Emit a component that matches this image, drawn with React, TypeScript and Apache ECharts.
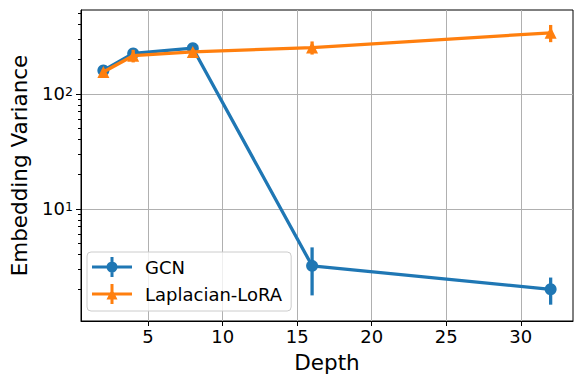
import React, { useEffect, useRef } from "react";
import * as echarts from "echarts";

const depths = [2, 4, 8, 16, 32];
const gcnMean = [160, 225, 250, 3.2, 2.0];
const gcnErr = [8, 12, 10, 1.43, 0.53];
const loraMean = [155, 215, 232, 253, 340];
const loraErr = [8, 27, 12, 33, 58];
const xTicks = [5, 10, 15, 20, 25, 30];
const yMajor = [10, 100];
const yMinor = [2, 3, 4, 5, 6, 7, 8, 9, 20, 30, 40, 50, 60, 70, 80, 90, 200, 300, 400, 500];

const BLUE = "#1f77b4";
const ORANGE = "#ff7f0e";
const FONT = "DejaVu Sans";

const GCN_ICON =
  "path://M0,8.5H40V11.5H0Z M18.5,0H21.5V20H18.5Z M14.5,10A5.5,5.5 0 1,1 25.5,10A5.5,5.5 0 1,1 14.5,10Z";
const LORA_ICON =
  "path://M0,8.5H40V11.5H0Z M18.5,0H21.5V20H18.5Z M20,4.5L25.5,15.5L14.5,15.5Z";

const errRender = (color: string) => (params: any, api: any) => {
  const x = api.value(0);
  const p1 = api.coord([x, api.value(1)]);
  const p2 = api.coord([x, api.value(2)]);
  return {
    type: "line",
    shape: { x1: p1[0], y1: p1[1], x2: p2[0], y2: p2[1] },
    style: { stroke: color, lineWidth: 3.3 },
  };
};

export default function App() {
  const ref = useRef<HTMLDivElement>(null);
  useEffect(() => {
    if (!ref.current) return;
    const chart = echarts.init(ref.current, null, { renderer: "svg" });
    const gcnLine = depths.map((d, i) => [d, gcnMean[i]]);
    const loraLine = depths.map((d, i) => [d, loraMean[i]]);
    const gcnBars = depths.map((d, i) => [d, gcnMean[i] - gcnErr[i], gcnMean[i] + gcnErr[i]]);
    const loraBars = depths.map((d, i) => [d, loraMean[i] - loraErr[i], loraMean[i] + loraErr[i]]);
    const yMin = 1.06;
    const yMax = 537;
    chart.setOption({
      animation: false,
      textStyle: { fontFamily: FONT },
      grid: {
        left: 77,
        right: 11,
        top: 10,
        bottom: 63,
        show: true,
        borderColor: "#000",
        borderWidth: 1,
        backgroundColor: "transparent",
      },
      xAxis: {
        type: "value",
        min: 0.5,
        max: 33.5,
        name: "Depth",
        nameLocation: "middle",
        nameGap: 30,
        nameTextStyle: { fontSize: 21.5, color: "#000", fontFamily: FONT },
        axisLine: { show: true, lineStyle: { color: "#000", width: 1 } },
        axisTick: { show: true, length: 5, customValues: xTicks, lineStyle: { color: "#000", width: 1 } },
        axisLabel: {
          customValues: xTicks,
          fontSize: 18,
          color: "#000",
          margin: 6,
          fontFamily: FONT,
        },
        splitLine: { show: true, lineStyle: { color: "#b0b0b0", width: 1 } },
      },
      yAxis: [
        {
          type: "log",
          logBase: 10,
          min: yMin,
          max: yMax,
          name: "Embedding Variance",
          nameLocation: "middle",
          nameGap: 51,
          nameTextStyle: { fontSize: 21.5, color: "#000", fontFamily: FONT },
          axisLine: { show: true, lineStyle: { color: "#000", width: 1 } },
          axisTick: { show: true, length: 5, customValues: yMajor, lineStyle: { color: "#000", width: 1 } },
          axisLabel: {
            customValues: yMajor,
            margin: 8,
            color: "#000",
            formatter: (v: number) => {
              const e = Math.round(Math.log10(v));
              return `{b|10}{s|${e}}`;
            },
            rich: {
              b: { fontSize: 18, lineHeight: 18, color: "#000", fontFamily: FONT },
              s: { fontSize: 12.6, lineHeight: 12.6, verticalAlign: "top", color: "#000", fontFamily: FONT },
            },
          },
          splitLine: { show: true, lineStyle: { color: "#b0b0b0", width: 1 } },
        },
        {
          type: "log",
          logBase: 10,
          min: yMin,
          max: yMax,
          position: "left",
          axisLine: { show: false },
          axisTick: { show: true, length: 3, customValues: yMinor, lineStyle: { color: "#000", width: 1 } },
          axisLabel: { show: false },
          splitLine: { show: false },
        },
      ],
      legend: {
        orient: "vertical",
        left: 87,
        top: 252,
        itemWidth: 40,
        itemHeight: 20,
        itemGap: 7,
        padding: [5, 9, 7, 5],
        backgroundColor: "rgba(255,255,255,0.8)",
        borderColor: "#cccccc",
        borderWidth: 1,
        borderRadius: 4,
        itemStyle: { borderWidth: 0 },
        textStyle: { fontSize: 18, color: "#000", fontFamily: FONT, padding: [0, 0, 0, 8] },
        data: [
          { name: "GCN", icon: GCN_ICON },
          { name: "Laplacian-LoRA", icon: LORA_ICON },
        ],
      },
      series: [
        {
          name: "GCN",
          type: "line",
          data: gcnLine,
          symbol: "circle",
          symbolSize: 12,
          lineStyle: { color: BLUE, width: 3.3 },
          itemStyle: { color: BLUE, borderWidth: 0 },
          z: 2,
        },
        {
          name: "GCN-err",
          type: "custom",
          data: gcnBars,
          encode: { x: 0, y: [1, 2] },
          renderItem: errRender(BLUE),
          z: 2,
        },
        {
          name: "Laplacian-LoRA",
          type: "line",
          data: loraLine,
          symbol: "triangle",
          symbolSize: 12,
          lineStyle: { color: ORANGE, width: 3.3 },
          itemStyle: { color: ORANGE, borderWidth: 0 },
          z: 3,
        },
        {
          name: "LoRA-err",
          type: "custom",
          data: loraBars,
          encode: { x: 0, y: [1, 2] },
          renderItem: errRender(ORANGE),
          z: 3,
        },
      ],
    });
    return () => chart.dispose();
  }, []);
  return (
    <div
      ref={ref}
      style={{ position: "fixed", left: 0, top: 0, width: 584, height: 384, background: "#fff" }}
    />
  );
}
